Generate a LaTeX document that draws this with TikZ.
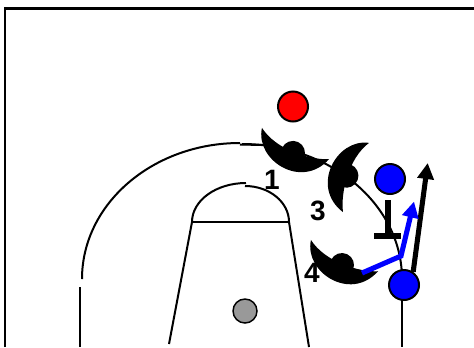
\documentclass[tikz,border=0pt]{standalone}
\usepackage{fontspec}
\setmainfont{Liberation Sans}
\usetikzlibrary{arrows.meta}
\tikzset{
  court/.style={line width=1.5pt},
  player/.style={circle,draw,line width=1.5pt,minimum size=22.5pt,inner sep=0pt},
  number/.style={font=\bfseries\fontsize{21}{21}\selectfont,inner sep=0pt},
  cut/.style={line width=3.8pt,-{Triangle[length=12pt,width=12pt]}},
  defender/.pic={
    \fill (-37,0) .. controls (-30,32) and (25,40) .. (37,0)
                  .. controls (20,9) and (-15,14) .. (-37,0);
    \fill (1.7,9.6) circle [radius=12];
  }
}
\begin{document}
\begin{tikzpicture}[x=0.75pt,y=-0.75pt]
  \useasboundingbox (0,0) rectangle (474,347);
  \draw [line width=1.9pt] (5,347) -- (5,8.5) -- (474,8.5);
  % court
  \draw [court] (82,279) arc [start angle=180,end angle=270,x radius=158,y radius=136];
  \draw [court] (240,144.5) -- (262,145);
  \draw [court] (242,144) arc [start angle=270,end angle=360,x radius=160,y radius=135];
  \draw [court] (80,287) -- (80,347);
  \draw [court] (402,300) -- (402,347);
  \draw [court] (192,222) -- (169,344);
  \draw [court] (289,222) -- (309,347);
  \draw [court] (192,222) -- (289,222);
  \draw [court] (192,222) arc [start angle=180,end angle=270,x radius=54,y radius=39];
  \draw [court] (245,186) arc [start angle=270,end angle=360,x radius=44,y radius=36];
  % defenders
  \pic (d1) [rotate=-25] at (295.5,143.5) {defender};
  \pic (d3) [rotate=-110.6] at (356,177.5) {defender};
  \pic (d4) [rotate=-25] at (344.5,255.6) {defender};
  \node (n1) [number] at (272,180) {1};
  \node (n3) [number] at (318,210.5) {3};
  \node (n4) [number] at (312,272.5) {4};
  % players
  \node (ball) [player,fill=red] at (293,106.5) {};
  \node (hoop) [circle,draw,line width=1.1pt,fill=gray!80,minimum size=18pt,inner sep=0pt] at (245,311) {};
  \node (p1) [player,fill=blue] at (390,179) {};
  \node (p2) [player,fill=blue] at (404,285) {};
  % screen
  \coordinate (s0) at (388,200);
  \coordinate (s1) at (388,236);
  \coordinate (s2) at (374,236);
  \coordinate (s3) at (401,236);
  \draw [line width=3.8pt] (s0) -- (s1);
  \draw [line width=3.8pt] (s2) -- (s3);
  % moves
  \coordinate (c0) at (427.7,163);
  \draw [cut] (p2.55) -- (c0);
  \coordinate (b0) at (362,273);
  \coordinate (b1) at (401,256);
  \coordinate (b2) at (414,201.5);
  \draw [cut,blue,line join=miter] (b0) -- (b1) -- (b2);
\end{tikzpicture}
\end{document}
